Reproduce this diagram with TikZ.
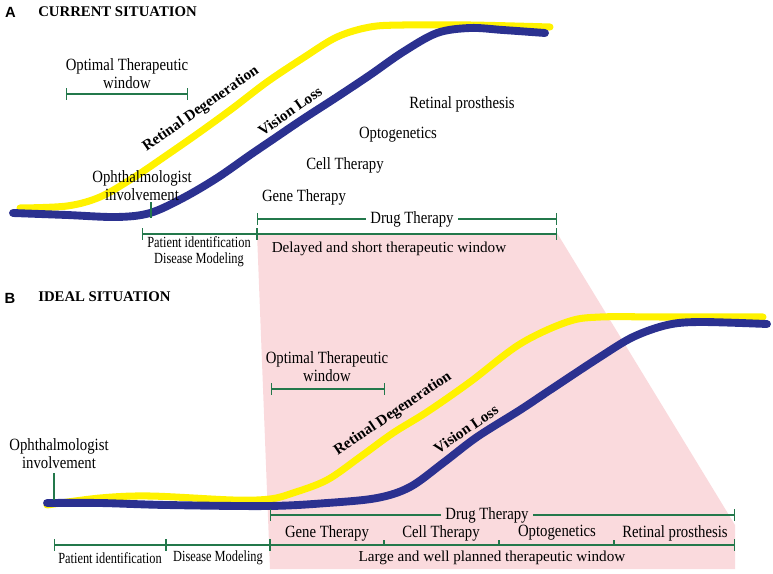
\documentclass[tikz,border=0pt]{standalone}
\usepackage{fontspec}
\setmainfont{Liberation Serif}
\setsansfont{Liberation Sans}
\newfontfamily\condfont[FakeStretch=0.86]{Liberation Serif}
\newfontfamily\narrowfont[FakeStretch=0.80]{Liberation Serif}
\usepackage{xcolor}
\definecolor{RDyellow}{HTML}{FFF200}
\definecolor{VLblue}{HTML}{2B3190}
\definecolor{TWgreen}{HTML}{23784B}
\definecolor{TWpink}{HTML}{FADADD}
\usetikzlibrary{arrows.meta, positioning}

\tikzset{
  win/.style={draw=TWgreen, line width=0.9pt},
  winbar/.style={win, {Bar[width=8.5pt]}-{Bar[width=8.5pt]}},
  winbarL/.style={win, {Bar[width=8pt]}-},
  winbarR/.style={win, -{Bar[width=8pt]}},
  degcurve/.style={RDyellow, line width=5pt, line cap=round},
  losscurve/.style={VLblue, line width=5.6pt, line cap=round},
  lbl/.style={font=\condfont\fontsize{12.2}{12.8}\selectfont, align=center, inner sep=1pt},
  sublbl/.style={font=\narrowfont\fontsize{11}{11.5}\selectfont, align=center, inner sep=1pt},
  spanlbl/.style={font=\fontsize{10.8}{12}\selectfont, inner sep=1pt},
  curvelbl/.style={font=\bfseries\fontsize{10.8}{12}\selectfont, inner sep=1pt, rotate=35},
  title/.style={font=\bfseries\fontsize{10.5}{12}\selectfont, anchor=west, inner sep=0pt},
  panel/.style={font=\sffamily\bfseries\fontsize{10.5}{12}\selectfont, inner sep=0pt}
}

\begin{document}
\begin{tikzpicture}[x=0.025cm, y=-0.025cm]
  \useasboundingbox (0,0) rectangle (773,573);

  % pink band linking the two drug therapy windows
  \fill[TWpink] (257,233) -- (557,233) -- (735,525) -- (735,569) -- (270,569) -- cycle;

  % ---------------- A: current situation ----------------
  \node[panel] (panA) at (10.5,12) {A};
  \node[title] (titA) at (38,12) {CURRENT SITUATION};

  \draw[degcurve] plot[smooth, tension=0.55] coordinates {(20,208) (67,206) (100,197) (133,178)
    (167,155) (200,132) (233,108) (267,82) (303,58) (337,37) (370,27) (403,25) (470,25) (550,27)};
  \draw[losscurve] plot[smooth, tension=0.55] coordinates {(13,213) (67,215) (117,217) (150,213)
    (183,198) (217,178) (250,155) (275,138) (303,119) (337,97) (370,75) (403,52) (437,33)
    (470,28) (503,30) (545,33)};
  \node[curvelbl] (degA) at (201,109) {Retinal Degeneration};
  \node[curvelbl] (lossA) at (290,111) {Vision Loss};

  % optimal window
  \node[lbl] (optA) at (127,74) {Optimal Therapeutic\\window};
  \coordinate (optA1) at (66,94);
  \coordinate (optA2) at (188,94);
  \draw[winbar] (optA1) -- (optA2);

  % ophthalmologist
  \node[lbl] (ophA) at (142,186) {Ophthalmologist\\involvement};
  \coordinate (ophA1) at (151,202);
  \coordinate (ophA2) at (151,218);
  \draw[win] (ophA1) -- (ophA2);

  % therapies
  \node[lbl] (geneA) at (304,197) {Gene Therapy};
  \node[lbl] (cellA) at (345,165) {Cell Therapy};
  \node[lbl] (optoA) at (398,135) {Optogenetics};
  \node[lbl] (protA) at (462,104) {Retinal prosthesis};

  % drug therapy window
  \node[lbl, inner sep=3pt] (drugA) at (412,219) {Drug Therapy};
  \coordinate (drugA1) at (257,219);
  \coordinate (drugA2) at (557,219);
  \draw[winbarL] (drugA1) -- (drugA.west);
  \draw[winbarR] (drugA.east) -- (drugA2);

  % identification and delayed window
  \coordinate (spanA1) at (142,234);
  \coordinate (spanA2) at (257,234);
  \coordinate (spanA3) at (557,234);
  \draw[winbar] (spanA1) -- (spanA2);
  \draw[winbar] (spanA2) -- (spanA3);
  \node[sublbl] (idA) at (199,252) {Patient identification\\Disease Modeling};
  \node[spanlbl] (delA) at (389,249) {Delayed and short therapeutic window};

  % ---------------- B: ideal situation ----------------
  \node[panel] (panB) at (10,298) {B};
  \node[title] (titB) at (38,297) {IDEAL SITUATION};

  \draw[degcurve] plot[smooth, tension=0.55] coordinates {(47,505) (100,498) (150,496) (233,500)
    (270,499) (293,493) (327,480) (360,457) (393,433) (427,412) (470,382) (520,344)
    (567,322) (600,317) (667,317) (763,317)};
  \draw[losscurve] plot[smooth, tension=0.55] coordinates {(47,503) (100,503) (167,505) (268,506)
    (327,503) (377,498) (410,487) (443,463) (477,437) (520,410) (550,390) (600,357) (633,337)
    (667,325) (700,322) (767,324)};
  \node[curvelbl, rotate=-1] (degB) at (393,414) {Retinal Degeneration};
  \node[curvelbl, rotate=-1] (lossB) at (466,429) {Vision Loss};

  % optimal window
  \node[lbl] (optB) at (327,367) {Optimal Therapeutic\\window};
  \coordinate (optB1) at (271,389);
  \coordinate (optB2) at (385,389);
  \draw[winbar] (optB1) -- (optB2);

  % ophthalmologist
  \node[lbl] (ophB) at (59,454) {Ophthalmologist\\involvement};
  \coordinate (ophB1) at (54,473);
  \coordinate (ophB2) at (54,500);
  \draw[win] (ophB1) -- (ophB2);

  % drug therapy window
  \node[lbl, inner sep=3pt, fill=TWpink] (drugB) at (487,515) {Drug Therapy};
  \coordinate (drugB1) at (270,515);
  \coordinate (drugB2) at (735,515);
  \draw[winbarL] (drugB1) -- (drugB.west);
  \draw[winbarR] (drugB.east) -- (drugB2);

  % time line with all steps
  \coordinate (spanB1) at (54,545);
  \coordinate (spanB2) at (166,545);
  \coordinate (spanB3) at (270,545);
  \coordinate (spanB4) at (735,545);
  \draw[winbar] (spanB1) -- (spanB2);
  \draw[winbar] (spanB2) -- (spanB3);
  \draw[winbar] (spanB3) -- (spanB4);
  \coordinate (stepB1) at (384,545);
  \coordinate (stepB2) at (499,545);
  \coordinate (stepB3) at (614,545);
  \draw[win] (stepB1) -- ++(0,-5);
  \draw[win] (stepB2) -- ++(0,-5);
  \draw[win] (stepB3) -- ++(0,-5);

  \node[lbl] (geneB) at (327,533) {Gene Therapy};
  \node[lbl] (cellB) at (441,533) {Cell Therapy};
  \node[lbl] (optoB) at (557,533) {Optogenetics};
  \node[lbl] (protB) at (675,533) {Retinal prosthesis};

  \node[sublbl] (idB) at (110,558) {Patient identification};
  \node[sublbl] (modB) at (218,558) {Disease Modeling};
  \node[spanlbl] (largeB) at (492,558) {Large and well planned therapeutic window};

\end{tikzpicture}
\end{document}
